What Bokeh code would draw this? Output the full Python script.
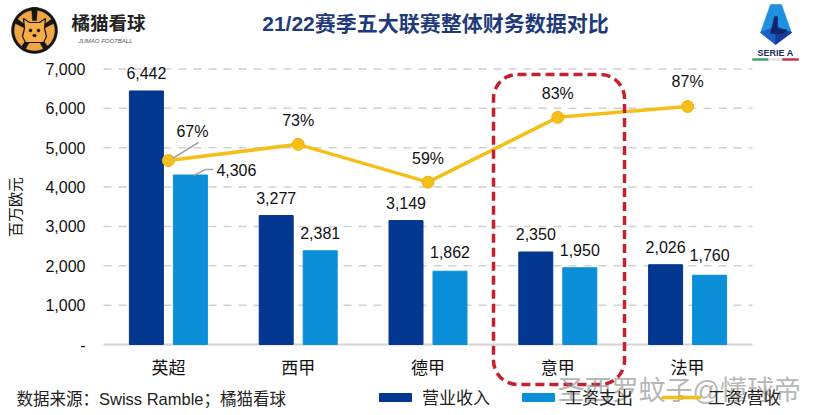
import numpy as np
from bokeh.plotting import figure
from bokeh.models import (ColumnDataSource, Range1d, FixedTicker, Label, BoxAnnotation,
                          PolyAnnotation, Legend, LegendItem, NumeralTickFormatter)
from bokeh.core.properties import value
from bokeh.embed import file_html
from bokeh.resources import INLINE

leagues = ["英超", "西甲", "德甲", "意甲", "法甲"]
revenue = [6442, 3277, 3149, 2350, 2026]
wages = [4306, 2381, 1862, 1950, 1760]
ratio = [67, 73, 59, 83, 87]
y_ticks = [0, 1000, 2000, 3000, 4000, 5000, 6000, 7000]

FONT = "Liberation Sans, Noto Sans CJK SC"
W, H = 814, 415
F_L, F_R, F_T, F_B = 103, 752, 68.5, 344   # edges of the plotting area in pixels
DARK, LIGHT, GOLD = "#04378F", "#0A8FD8", "#F5BF1A"
ORANGE, INK = "#F2A544", "#141414"

ux = (F_R - F_L) / 5
uy = (F_B - F_T) / 7000
up = (F_B - F_T) / 102
p = figure(width=W, height=H,
           x_range=Range1d(-F_L / ux, 5 + (W - F_R) / ux),
           y_range=Range1d(-(H - F_B) / uy, 7000 + F_T / uy),
           output_backend="svg", toolbar_location=None, min_border=0,
           outline_line_color=None, background_fill_color="white")
p.extra_y_ranges = {"pct": Range1d(-1.1 - (H - F_B) / up, 100.9 + F_T / up)}

sx = lambda x: x
sy = lambda y: H - y

x_pos = [i + 0.5 for i in range(len(leagues))]

# axes and grid
p.yaxis.fixed_location = 0
p.yaxis.bounds = (0, 7000)
p.yaxis.ticker = FixedTicker(ticks=y_ticks)
p.yaxis.formatter = NumeralTickFormatter(format="0,0")
p.yaxis.major_label_overrides = {0: "-"}
p.yaxis.axis_line_color = None
p.yaxis.major_tick_line_color = None
p.yaxis.minor_tick_line_color = None
p.yaxis.major_tick_out = 0
p.yaxis.major_label_text_font = FONT
p.yaxis.major_label_text_font_size = "16px"
p.yaxis.major_label_text_color = "#111111"
p.yaxis.major_label_standoff = 18
p.yaxis.axis_label = "百万欧元"
p.yaxis.axis_label_text_font = FONT
p.yaxis.axis_label_text_font_size = "15px"
p.yaxis.axis_label_text_font_style = "normal"
p.yaxis.axis_label_text_color = "#111111"
p.yaxis.axis_label_standoff = 18
p.xaxis.fixed_location = 0
p.xaxis.ticker = FixedTicker(ticks=x_pos)
p.xaxis.major_label_overrides = dict(zip(x_pos, leagues))
p.xaxis.axis_line_color = None
p.xaxis.major_tick_line_color = None
p.xaxis.minor_tick_line_color = None
p.xaxis.major_tick_out = 0
p.xaxis.major_label_text_font = FONT
p.xaxis.major_label_text_font_size = "17px"
p.xaxis.major_label_text_color = "#111111"
p.xaxis.major_label_standoff = 14
p.xgrid.visible = False
p.ygrid.visible = False

p.segment(x0=0, x1=5, y0=y_ticks[1:], y1=y_ticks[1:], line_color="#D2D2D2", line_width=1.5,
          line_dash="8 7")
p.segment(x0=[0], x1=[5], y0=[0], y1=[0], line_color="#D4D4D4", line_width=2)

src = ColumnDataSource(dict(x=x_pos, league=leagues, revenue=revenue, wages=wages, ratio=ratio,
                            xr=[v - 22 / ux for v in x_pos], xw=[v + 22 / ux for v in x_pos],
                            revenue_text=[f"{v:,}" for v in revenue],
                            wages_text=[f"{v:,}" for v in wages],
                            ratio_text=[f"{v}%" for v in ratio],
                            rev_dy=[-18, -18, -18, -18, -18],
                            wages_dx=[46, 0, 0, 0, 0], wages_dy=[-5, -18, -19, -18, -20],
                            ratio_dx=[24, 0, 0, 0, 0], ratio_dy=[-29, -24, -24, -24, -25]))

r1 = p.vbar(x="xr", top="revenue", width=34 / ux, color=DARK, source=src)
r2 = p.vbar(x="xw", top="wages", width=34 / ux, color=LIGHT, source=src)

# leader lines
for xs, ys in [([172, 198], [158, 142]), ([193, 205, 213], [175, 169, 169])]:
    p.add_layout(PolyAnnotation(xs=[sx(v) for v in xs + xs[::-1]], ys=[sy(v) for v in ys + ys[::-1]],
                                xs_units="screen", ys_units="screen", fill_alpha=0,
                                line_color="#A6A6A6", line_alpha=1, line_width=1.5, level="glyph"))

r3 = p.line(x="x", y="ratio", y_range_name="pct", line_color=GOLD, line_width=3.5, source=src)
r4 = p.scatter(x="x", y="ratio", y_range_name="pct", size=12, marker="circle", fill_color=GOLD,
               line_color="#F2B010", source=src)

txt = dict(text_font=value(FONT), text_font_size="16px", text_color="#111111",
           text_align="center", text_baseline="middle", source=src)
p.text(x="xr", y="revenue", text="revenue_text", y_offset="rev_dy", **txt)
p.text(x="xw", y="wages", text="wages_text", x_offset="wages_dx", y_offset="wages_dy", **txt)
p.text(x="x", y="ratio", y_range_name="pct", text="ratio_text", x_offset="ratio_dx",
       y_offset="ratio_dy", **txt)

# highlight frame
p.add_layout(BoxAnnotation(left=sx(493), right=sx(624), top=sy(74), bottom=sy(384),
                           left_units="screen", right_units="screen", top_units="screen",
                           bottom_units="screen", fill_alpha=0, line_color="#C5202B", line_alpha=1,
                           line_width=3.5, line_dash="9 5", border_radius=24))


def label(text, x, y, size, color="#111111", style="normal", align="left", alpha=1.0):
    p.add_layout(Label(x=sx(x), y=sy(y), x_units="screen", y_units="screen", text=text,
                       text_font=FONT, text_font_size=f"{size}px", text_color=color,
                       text_font_style=style, text_align=align, text_baseline="middle",
                       text_alpha=alpha))


def poly(xs, ys, color, edge=None, width=0.5):
    p.add_layout(PolyAnnotation(xs=[sx(v) for v in xs], ys=[sy(v) for v in ys], xs_units="screen",
                                ys_units="screen", fill_color=color, fill_alpha=1,
                                line_color=edge or color, line_alpha=1, line_width=width,
                                level="overlay"))


def ellipse(cx, cy, rx, ry, color, edge=None, width=0.5):
    t = np.linspace(0, 2 * np.pi, 48, endpoint=False)
    poly(list(cx + rx * np.cos(t)), list(cy + ry * np.sin(t)), color, edge, width)


label("21/22赛季五大联赛整体财务数据对比", 435, 23, 21, "#1F3A7A", "bold", "center")
label("数据来源：Swiss Ramble；橘猫看球", 16, 398, 16.5, "#222222")

# brand logo: black disc, orange mane split by dark rays, cat head in front
ellipse(34, 30, 23, 23, INK)
ellipse(34, 30, 20, 20, ORANGE)
poly([31, 37, 36, 32], [7, 7, 20, 20], INK)
for xs, ys in [([13, 16, 27, 25], [22, 18, 26, 28]), ([55, 52, 41, 43], [22, 18, 26, 28]),
               ([20, 24, 30, 27], [47, 50, 40, 38]), ([48, 44, 38, 41], [47, 50, 40, 38])]:
    poly(xs, ys, INK)
poly([24, 23, 29, 39, 45, 44, 46, 43, 25, 22],
     [28, 18, 22, 22, 18, 28, 36, 42, 42, 36], "#F5AE4A", INK, 1.2)
ellipse(30, 30, 1.5, 1.5, INK)
ellipse(38, 30, 1.5, 1.5, INK)
ellipse(34, 35, 1.8, 1.3, INK)
label("橘猫看球", 71, 23, 18.5, "#222222", "bold")
label("JUMAO FOOTBALL", 78, 40, 6, "#555555", "italic")

# league logo
poly([770, 781, 791, 775, 760], [4, 4, 32, 44, 32], "#1E8FE1")
poly([760, 775, 791, 775], [32, 26, 32, 44], "#1A5FC4")
poly([775, 791, 775], [26, 32, 44], "#173C9A")
poly([774, 777, 777, 786, 784, 770], [16, 16, 29, 29, 33, 33], "#14246B")
label("SERIE A", 775, 52, 9, "#1F2A5C", "bold", "center")
poly([752, 768, 768, 752], [58, 58, 60, 60], "#3FA372")
poly([768, 782, 782, 768], [58, 58, 60, 60], "#E4E4E4")
poly([782, 798, 798, 782], [58, 58, 60, 60], "#C8324A")

# legend
leg = Legend(items=[LegendItem(label="营业收入", renderers=[r1]),
                    LegendItem(label="工资支出", renderers=[r2]),
                    LegendItem(label="工资/营收", renderers=[r3, r4])],
             orientation="horizontal", location=(375, 6), background_fill_alpha=0,
             border_line_color=None, glyph_width=40, glyph_height=10, label_standoff=7, spacing=28,
             label_text_font=FONT, label_text_font_size="17px", label_text_color="#222222",
             margin=0, padding=0)
p.add_layout(leg, "center")

label("圣西罗蚊子@懂球帝", 557, 390, 27, "#8C8C8C", alpha=0.65)

open("out.html", "w").write(file_html(p, INLINE))
